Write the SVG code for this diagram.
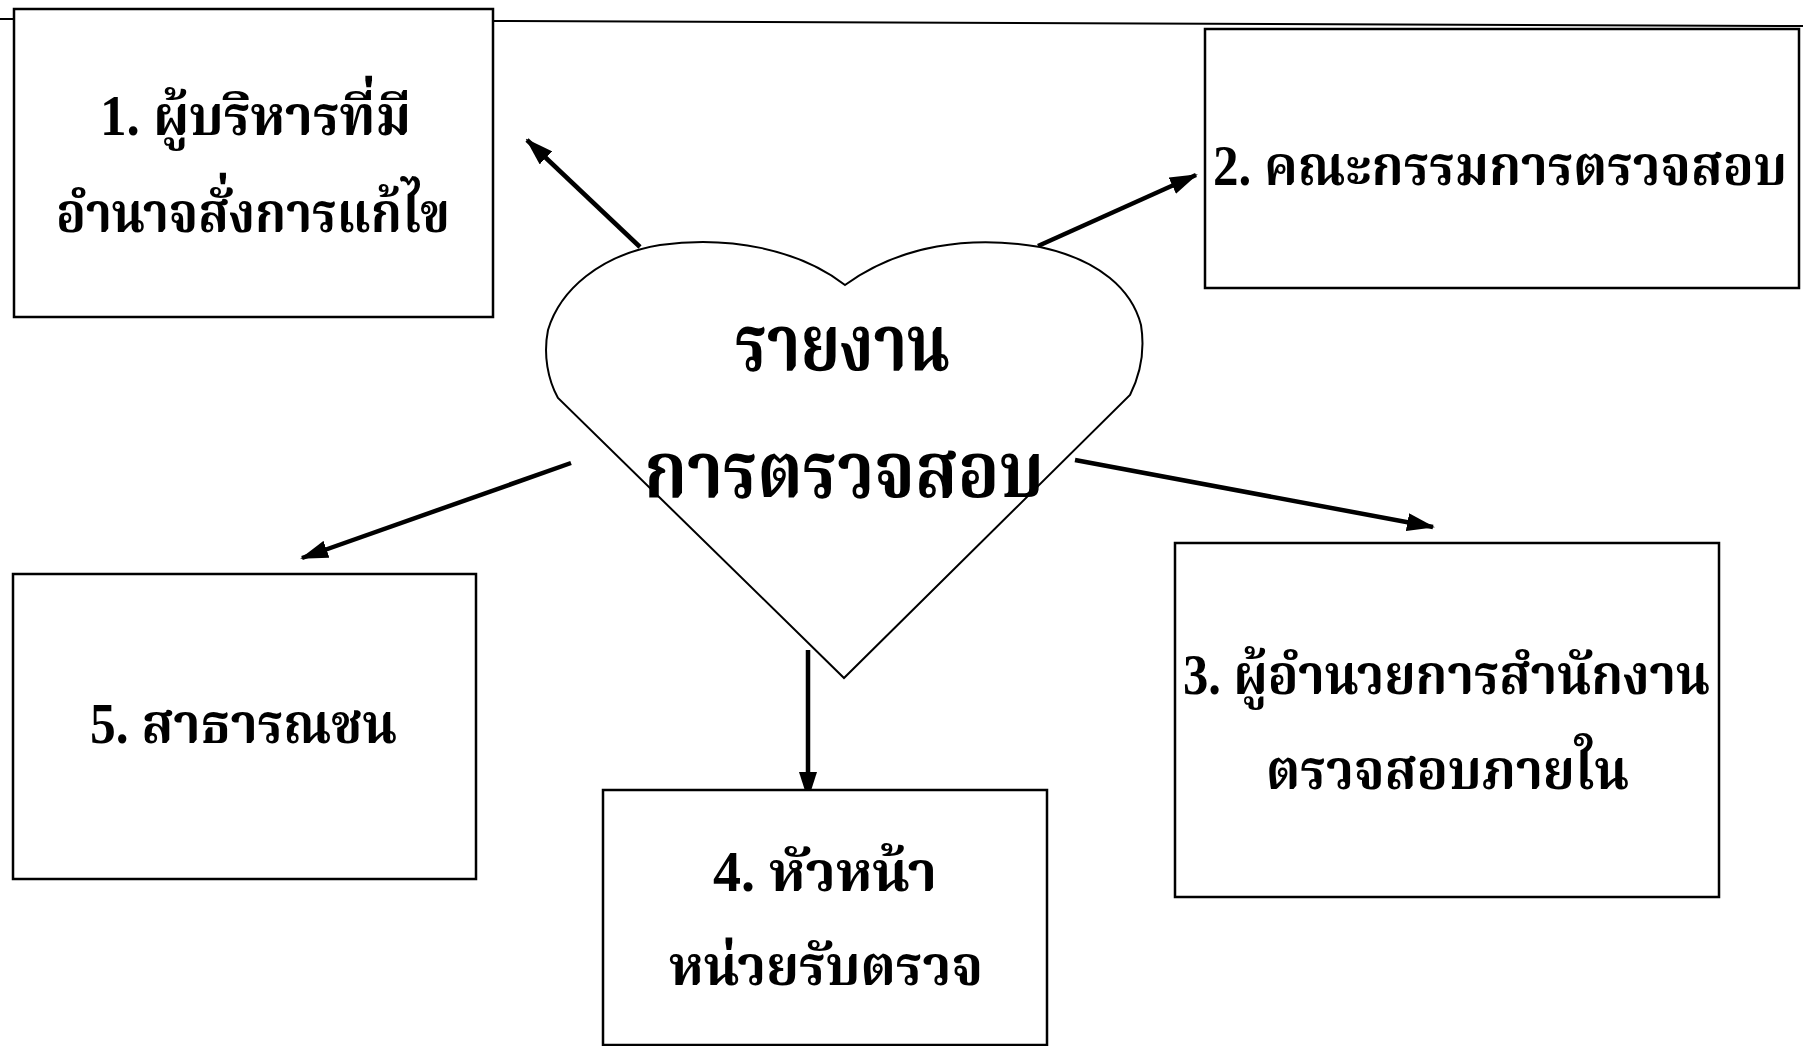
<svg xmlns="http://www.w3.org/2000/svg" width="1803" height="1046" viewBox="0 0 1803 1046">
<style>
.box{fill:#fff;stroke:#000;stroke-width:2.5}
.t{font-family:"Liberation Serif","Noto Serif Thai","Noto Sans Thai",serif;font-weight:bold;font-size:56px;fill:#000}
.h{font-size:78px}
.c{stroke:#000;stroke-width:4.5;fill:none;marker-end:url(#ah)}
</style>
<defs>
<marker id="ah" markerUnits="userSpaceOnUse" markerWidth="28" markerHeight="18" refX="26" refY="9" orient="auto">
<path d="M0,0 L28,9 L0,18 Z" fill="#000"/>
</marker>
</defs>
<rect width="1803" height="1046" fill="#fff"/>
<g id="page-lines" stroke="#000" stroke-width="2">
<line x1="0" y1="19" x2="14" y2="19"/>
<line x1="493" y1="21" x2="1803" y2="26"/>
</g>
<g id="connectors">
<line class="c" x1="640" y1="247" x2="527" y2="140"/>
<line class="c" x1="1038" y1="246" x2="1196" y2="175"/>
<line class="c" x1="1075" y1="460" x2="1433" y2="527"/>
<line class="c" x1="808" y1="650" x2="808" y2="798"/>
<line class="c" x1="571" y1="463" x2="302" y2="558"/>
</g>
<g id="heart">
<path d="M845,285 C800,250 730,235 660,245 C600,255 560,290 548,330 C543,355 548,380 558,398 L844,678 L1130,395 C1140,375 1145,350 1141,325 C1132,290 1100,260 1040,247 C970,235 900,245 845,285 Z" fill="#fff" stroke="#000" stroke-width="2"/>
<text class="t h" x="735" y="370" textLength="215" lengthAdjust="spacingAndGlyphs">รายงาน</text>
<text class="t h" x="644" y="497" textLength="400" lengthAdjust="spacingAndGlyphs">การตรวจสอบ</text>
</g>
<g id="node1">
<rect class="box" x="14" y="9" width="479" height="308"/>
<text class="t" x="100" y="135" textLength="311" lengthAdjust="spacingAndGlyphs">1. ผู้บริหารที่มี</text>
<text class="t" x="56" y="232" textLength="394" lengthAdjust="spacingAndGlyphs">อำนาจสั่งการแก้ไข</text>
</g>
<g id="node2">
<rect class="box" x="1205" y="29" width="594" height="259"/>
<text class="t" x="1213" y="185" textLength="574" lengthAdjust="spacingAndGlyphs">2. คณะกรรมการตรวจสอบ</text>
</g>
<g id="node3">
<rect class="box" x="1175" y="543" width="544" height="354"/>
<text class="t" x="1183" y="694" textLength="527" lengthAdjust="spacingAndGlyphs">3. ผู้อำนวยการสำนักงาน</text>
<text class="t" x="1266" y="789" textLength="363" lengthAdjust="spacingAndGlyphs">ตรวจสอบภายใน</text>
</g>
<g id="node4">
<rect class="box" x="603" y="790" width="444" height="255"/>
<text class="t" x="713" y="891" textLength="224" lengthAdjust="spacingAndGlyphs">4. หัวหน้า</text>
<text class="t" x="669" y="985" textLength="314" lengthAdjust="spacingAndGlyphs">หน่วยรับตรวจ</text>
</g>
<g id="node5">
<rect class="box" x="13" y="574" width="463" height="305"/>
<text class="t" x="90" y="743" textLength="307" lengthAdjust="spacingAndGlyphs">5. สาธารณชน</text>
</g>
</svg>
